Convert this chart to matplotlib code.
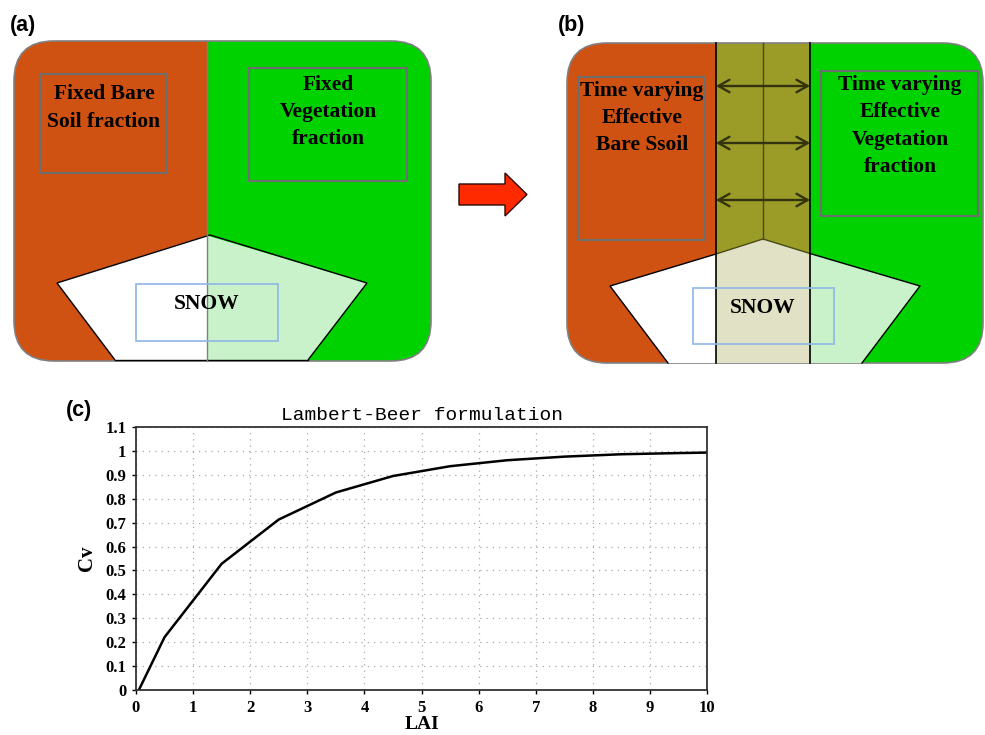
import matplotlib
matplotlib.use("Agg")
import matplotlib.pyplot as plt
from matplotlib.patches import FancyBboxPatch, Rectangle, Polygon

# panel (c) data: Lambert-Beer vegetation cover vs LAI
lai = [0.05, 0.5, 1.5, 2.5, 3.5, 4.5, 5.5, 6.5, 7.5, 8.5, 9.5, 10.0]
cv = [0.0, 0.221, 0.528, 0.713, 0.826, 0.895, 0.936, 0.961, 0.976, 0.986, 0.991, 0.993]
xticks = list(range(0, 11))
yticks = [0, 0.1, 0.2, 0.3, 0.4, 0.5, 0.6, 0.7, 0.8, 0.9, 1.0, 1.1]
ytick_labels = ["0", "0.1", "0.2", "0.3", "0.4", "0.5", "0.6", "0.7", "0.8", "0.9", "1", "1.1"]

# diagram texts
a_soil = "Fixed Bare\nSoil fraction"
a_veg = "Fixed\nVegetation\nfraction"
b_soil = "Time varying\nEffective\nBare Ssoil"
b_veg = "Time varying\nEffective\nVegetation\nfraction"

ORANGE = "#D05212"
GREEN = "#00D200"
LGREEN = "#C9F2CA"
OLIVE = "#9B9B28"
BEIGE = "#E1E1C5"
BOXGRAY = "#6E6E6E"
SNOWBOX = "#8DB6E6"

fig = plt.figure(figsize=(9.85, 7.35), dpi=100)
ax = fig.add_axes([0, 0, 1, 1])
ax.set_xlim(0, 985)
ax.set_ylim(735, 0)
ax.axis("off")

txt = dict(family="Liberation Serif", weight="bold", fontsize=15.5, ha="center", va="center",
           linespacing=1.47)


def panel_frame(x0, y0, x1, y1):
    fr = FancyBboxPatch((x0, y0), x1 - x0, y1 - y0, boxstyle="round,pad=0,rounding_size=40",
                        fc="none", ec="#808080", lw=1.2, zorder=1)
    ax.add_patch(fr)
    return fr


# ---- panel (a)
fa = panel_frame(14, 41, 431, 361)
for xs, c in [((14, 207), ORANGE), ((207, 431), GREEN)]:
    r = Rectangle((xs[0], 41), xs[1] - xs[0], 320, fc=c, ec="none", zorder=0.5)
    ax.add_patch(r)
    r.set_clip_path(fa)
ax.add_patch(Polygon([(207, 235.5), (57, 283), (115, 360), (207, 360)], fc="white", ec="none", zorder=2))
ax.add_patch(Polygon([(207, 235.5), (367, 283), (308, 360), (207, 360)], fc=LGREEN, ec="none", zorder=2))
ax.add_patch(Polygon([(115, 360), (57, 283), (210, 235), (367, 283), (308, 360)], closed=False,
                     fc="none", ec="black", lw=1.0, zorder=3))
ax.plot([115, 308], [360, 360], color="black", lw=1.0, zorder=3)
ax.plot([207, 207], [41, 361], color="#808080", lw=1.0, zorder=3)
ax.add_patch(Rectangle((40, 74), 126, 99, fc="none", ec=BOXGRAY, lw=1.5, zorder=4))
ax.add_patch(Rectangle((249, 68), 158, 113, fc="none", ec=BOXGRAY, lw=1.5, zorder=4))
ax.add_patch(Rectangle((136, 284), 142, 57, fc="none", ec=SNOWBOX, lw=1.2, zorder=4))
ax.text(104, 108, a_soil, zorder=5, **txt)
ax.text(328, 112, a_veg, zorder=5, **txt)
ax.text(207, 304, "SNOW", zorder=5, **txt)

# ---- panel (b)
fb = panel_frame(567, 43, 983, 363)
for xs, c in [((567, 716), ORANGE), ((716, 810), OLIVE), ((810, 985), GREEN)]:
    r = Rectangle((xs[0], 43), xs[1] - xs[0], 320, fc=c, ec="none", zorder=0.5)
    ax.add_patch(r)
    r.set_clip_path(fb)
ax.add_patch(Polygon([(716, 254), (610, 286), (668, 363), (716, 363)], fc="white", ec="none", zorder=2))
ax.add_patch(Polygon([(716, 254), (763, 239), (810, 253.5), (810, 363), (716, 363)], fc=BEIGE,
                     ec="none", zorder=2))
ax.add_patch(Polygon([(810, 253.5), (920, 286), (862, 363), (810, 363)], fc=LGREEN, ec="none", zorder=2))
ax.plot([668, 610, 716], [363, 286, 254], color="black", lw=1.0, zorder=3)
ax.plot([716, 763, 810], [254, 239, 253.5], color="#4A4A18", lw=1.0, zorder=3)
ax.plot([810, 920, 862], [253.5, 286, 363], color="black", lw=1.0, zorder=3)
ax.plot([763, 763], [43, 239], color="#4A4A18", lw=1.0, zorder=3)
for xv in (716, 810):
    ax.plot([xv, xv], [43, 363], color="black", lw=1.2, zorder=3)
for yv in (86, 143, 200):
    ax.annotate("", xy=(810, yv), xytext=(716, yv), zorder=4,
                arrowprops=dict(arrowstyle="<->,head_length=0.8,head_width=0.45",
                                color="#33330F", lw=1.7, shrinkA=0, shrinkB=0))
ax.add_patch(Rectangle((578, 77), 127, 163, fc="none", ec=BOXGRAY, lw=1.5, zorder=4))
ax.add_patch(Rectangle((821, 71), 157, 145, fc="none", ec=BOXGRAY, lw=1.5, zorder=4))
ax.add_patch(Rectangle((693, 288), 141, 56, fc="none", ec=SNOWBOX, lw=1.2, zorder=4))
ax.text(642, 118, b_soil, zorder=5, **txt)
ax.text(900, 126, b_veg, zorder=5, **txt)
ax.text(763, 308, "SNOW", zorder=5, **txt)

# red arrow between (a) and (b)
ax.add_patch(Polygon([(459, 184), (505, 184), (505, 173), (527, 194.5), (505, 216), (505, 205),
                      (459, 205)], fc="#FF2A00", ec="#2A0A00", lw=1.0, zorder=4))

# panel labels
lab = dict(family="Liberation Sans", weight="bold", fontsize=15.5, ha="left", va="center")
ax.text(10, 25, "(a)", **lab)
ax.text(558, 25, "(b)", **lab)
ax.text(66, 410, "(c)", **lab)

# ---- panel (c)
axc = fig.add_axes([136 / 985, 1 - 690 / 735, 571 / 985, 263 / 735])
axc.plot(lai, cv, color="black", lw=1.8)
axc.set_xlim(0, 10)
axc.set_ylim(0, 1.1)
axc.set_xticks(xticks)
axc.set_yticks(yticks)
axc.set_yticklabels(ytick_labels)
axc.grid(True, linestyle=(0, (1, 4)), color="#A8A8A8", lw=0.9)
for s in axc.spines.values():
    s.set_color("#333333")
    s.set_linewidth(1.3)
    s.set_linestyle((0, (4, 1)))
axc.tick_params(direction="out", length=3, width=1, pad=4)
for t in axc.get_xticklabels() + axc.get_yticklabels():
    t.set_family("Liberation Serif")
    t.set_weight("bold")
    t.set_fontsize(12)
axc.set_title("Lambert-Beer formulation", family="Liberation Mono", fontsize=14, pad=5)
axc.set_xlabel("LAI", family="Liberation Serif", weight="bold", fontsize=14, labelpad=0)
axc.set_ylabel("Cv", family="Liberation Serif", weight="bold", fontsize=15, labelpad=6)

fig.savefig("out.png", dpi=100)
